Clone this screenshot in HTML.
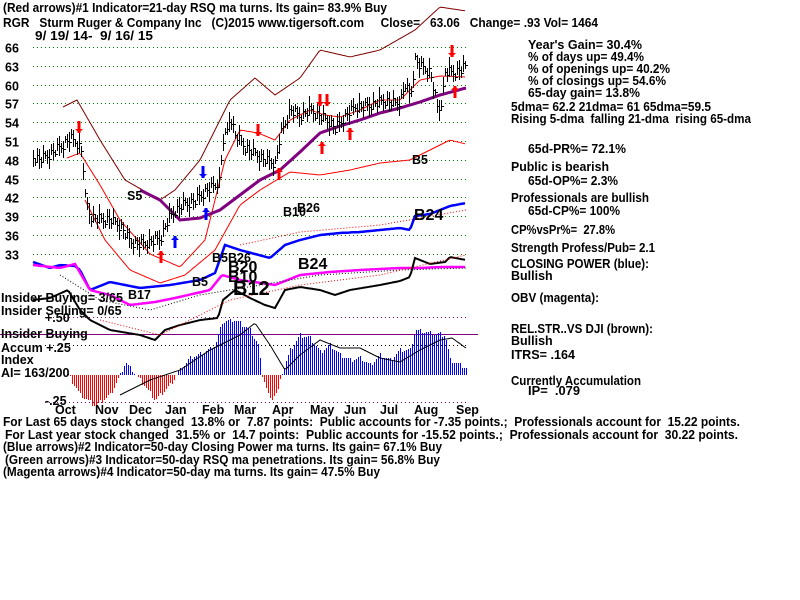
<!DOCTYPE html>
<html><head><meta charset="utf-8"><style>
html,body{margin:0;padding:0;background:#fff;width:800px;height:600px;overflow:hidden}
svg text{font-family:"Liberation Sans",sans-serif;font-weight:bold;font-size:12.5px;fill:#000;white-space:pre}
</style></head><body>
<svg id="s" width="800" height="600" xmlns="http://www.w3.org/2000/svg"></svg>
<script>
var s=document.getElementById('s'),h='';
function py(p){return 47+(66-p)*6.27;}
function pl(pts,c,w,d){h+='<polyline fill="none" stroke="'+c+'" stroke-width="'+w+'"'+(d?' stroke-dasharray="'+d+'"':'')+' points="'+pts.join(' ')+'"/>';}
function interp(a,x){for(var i=0;i<a.length-1;i++){if(x>=a[i][0]&&x<=a[i+1][0]){var t=(x-a[i][0])/(a[i+1][0]-a[i][0]);return a[i][1]+t*(a[i+1][1]-a[i][1]);}}return a[a.length-1][1];}
function curve(a,c,w,d){var p=[];for(var x=a[0][0];x<=a[a.length-1][0];x+=2)p.push(x+','+interp(a,x).toFixed(1));pl(p,c,w,d);}
function txt(x,y,t,c,sz,tl){h+='<text x="'+x+'" y="'+y+'"'+(tl?' textLength="'+tl+'" lengthAdjust="spacingAndGlyphs"':'')+(c?' style="fill:'+c+(sz?';font-size:'+sz+'px':'')+'"':'')+'>'+t+'</text>';}
// grid
var labs=[66,63,60,57,54,51,48,45,42,39,36,33];
labs.forEach(function(p){var y=Math.round(py(p))+0.5;h+='<line x1="33" x2="466" y1="'+y+'" y2="'+y+'" stroke="#008000" stroke-dasharray="1,3"/>';txt(5,y+5,p);});
[[317.5,'#800080'],[345.5,'#000'],[402.5,'#800080']].forEach(function(g){h+='<line x1="45" x2="466" y1="'+g[0]+'" y2="'+g[0]+'" stroke="'+g[1]+'" stroke-dasharray="1,3"/>';});
h+='<line x1="0" x2="478" y1="334.5" y2="334.5" stroke="#800080" stroke-width="1"/>';
// AI bars
var ai=[[68,375],[80,395],[95,406],[110,395],[120,375],[125,362],[130,368],[140,380],[155,400],[170,385],[178,372],[190,358],[205,352],[215,345],[222,322],[235,320],[250,330],[258,345],[262,375],[270,400],[278,390],[282,372],[290,350],[300,335],[310,338],[320,352],[330,345],[340,355],[350,360],[360,358],[370,365],[380,355],[390,360],[400,350],[410,350],[415,330],[430,333],[445,335],[450,360],[466,368]];
h+='<g shape-rendering="crispEdges">';
for(var x=68;x<=466;x+=2){var y=Math.round(interp(ai,x)+((x*7)%5-2));var c=y>375?'#f00':'#00f';if(Math.abs(y-375)<1)continue;h+='<line x1="'+(x+0.5)+'" x2="'+(x+0.5)+'" y1="375" y2="'+y+'" stroke="'+c+'" stroke-width="1"/>';}
h+='</g>';
curve([[120,395],[150,380],[180,370],[210,350],[240,335],[255,323],[270,345],[285,370],[300,355],[320,340],[340,348],[360,348],[380,358],[400,362],[420,350],[440,340],[452,338],[466,348]],'#000',1);
// price bands
curve([[63,107],[77,100],[100,140],[125,180],[160,200],[175,190],[200,160],[230,100],[255,78],[275,95],[300,78],[320,50],[350,57],[380,50],[415,30],[440,7],[466,11]],'#800000',1);
curve([[67,158],[80,153],[100,185],[120,220],[150,254],[180,267],[205,240],[215,200],[225,160],[240,130],[258,133],[275,140],[290,120],[310,110],[325,115],[340,117],[360,110],[380,100],[400,100],[420,80],[440,76],[466,77]],'#f00',1);
curve([[85,200],[105,240],[130,270],[160,283],[185,275],[215,250],[240,205],[260,190],[290,172],[320,175],[350,170],[380,163],[410,160],[430,150],[450,140],[466,144]],'#f00',1);
curve([[140,190],[160,200],[180,220],[200,218],[220,210],[240,195],[260,180],[280,170],[300,152],[320,133],[340,126],[360,120],[380,113],[400,108],[420,102],[440,95],[466,88]],'#800080',3);
// price bars
var pr=[[33,48.5],[40,48],[50,49],[60,50],[70,51.5],[78,50.5],[82,49],[85,42],[90,39],[100,38.5],[110,38.5],[120,37.5],[130,35],[140,34.5],[150,35],[160,35.5],[168,38.5],[175,40],[185,41],[195,41.5],[205,43],[215,44],[220,45],[222,51],[226,52],[230,55],[235,52],[245,50],[255,49],[265,48],[275,47.5],[280,52],[285,54],[290,56],[300,55],[310,56],[320,55],[330,54],[335,53],[345,55],[355,56.5],[365,56.5],[375,57],[385,57.5],[395,57],[400,57.5],[405,60],[410,58],[415,64],[420,63],[430,62],[435,58],[438,55.5],[442,58],[445,62],[455,62],[462,62.5],[466,63]];
h+='<g shape-rendering="crispEdges">';
for(var x=33;x<=466;x+=2){var p=interp(pr,x)+(((x*13)%7)-3)*0.25;var r=0.6+((x*11)%5)*0.25;var y1=Math.round(py(p+r)),y2=Math.round(py(p-r)),yc=Math.round(py(p))+0.5;h+='<line x1="'+(x+0.5)+'" x2="'+(x+0.5)+'" y1="'+y1+'" y2="'+y2+'" stroke="#000"/><line x1="'+x+'" x2="'+(x+3)+'" y1="'+yc+'" y2="'+yc+'" stroke="#000"/>';}
h+='</g>';
// lower indicators
curve([[33,262],[50,268],[60,265],[75,266],[80,270],[90,290],[110,282],[140,288],[170,285],[200,280],[215,273],[225,245],[240,250],[270,258],[285,245],[300,240],[320,235],[340,233],[360,232],[380,230],[400,228],[410,230],[415,216],[430,214],[450,206],[466,203]],'#00f',2.5);
curve([[33,265],[60,268],[75,264],[90,290],[110,295],[130,305],[155,302],[175,298],[210,290],[222,275],[240,280],[275,285],[300,275],[330,272],[360,270],[400,268],[420,268],[440,267],[466,267]],'#f0f',2.5);
curve([[33,300],[50,298],[68,290],[80,310],[90,320],[110,330],[140,335],[155,340],[165,330],[180,325],[200,320],[218,318],[223,300],[235,290],[250,298],[265,305],[275,308],[285,290],[300,287],[320,290],[335,295],[350,290],[380,285],[400,281],[410,277],[415,258],[430,264],[445,262],[450,257],[466,260]],'#000',2);
curve([[60,275],[100,300],[150,310],[200,295],[260,285],[320,275],[400,270],[466,268]],'#000',1,'1,2');
curve([[100,320],[160,335],[230,300],[300,285],[380,275],[466,255]],'#f00',1,'1,2');
curve([[240,245],[300,232],[380,225],[466,210]],'#f00',1,'1,2');
// arrows
function arr(x,y,c,up,hh){hh=hh||12;var t=up?y:y+hh;h+='<line x1="'+x+'" x2="'+x+'" y1="'+y+'" y2="'+(y+hh)+'" stroke="'+c+'" stroke-width="3"/><polygon fill="'+c+'" points="'+(x-4)+','+(up?t+4:t-4)+' '+(x+4)+','+(up?t+4:t-4)+' '+x+','+t+'"/>';}
arr(79,121,'#f00',0);arr(258,124,'#f00',0);arr(320,94,'#f00',0);arr(327,94,'#f00',0);arr(452,45,'#f00',0);
arr(279,168,'#f00',1);arr(322,142,'#f00',1);arr(350,128,'#f00',1);arr(455,86,'#f00',1);arr(161,251,'#f00',1);
arr(175,236,'#00f',1);arr(206,208,'#00f',1);arr(203,166,'#00f',0);
txt(127,200,'S5');txt(412,164,'B5');txt(192,286,'B5');txt(283,216,'B10');txt(212,262,'B5B26');
txt(298,269,'B24','#000',16);txt(228,272,'B20','#000',16);txt(228,282,'B10','#000',16);txt(233,295,'B12','#000',20);txt(128,299,'B17');txt(414,220,'B24','#000',16);txt(297,212,'B26');
['Oct','Nov','Dec','Jan','Feb','Mar','Apr','May','Jun','Jul','Aug','Sep'].forEach(function(m,i){var xs=[55,95,129,165,202,234,272,310,344,380,414,456];txt(xs[i],414,m);});
txt(1,302,'Insider Buying= 3/65');txt(1,315,'Insider Selling= 0/65');txt(45,322,'+.50');
txt(1,338,'Insider Buying');txt(1,352,'Accum +.25');txt(1,364,'Index');txt(1,377,'AI= 163/200');txt(45,405,'-.25');
// header
txt(3,12,'(Red arrows)#1 Indicator=21-day RSQ ma turns. Its gain= 83.9% Buy',0,0,384);
txt(3,27,'RGR   Sturm Ruger &amp; Company Inc   (C)2015 www.tigersoft.com     Close=   63.06   Change= .93 Vol= 1464',0,0,595);
txt(35,40,'9/ 19/ 14-  9/ 16/ 15',0,0,118);
var R=[[528,49,"Year's Gain= 30.4%",114],[528,61,'% of days up= 49.4%',116],[528,73,'% of openings up= 40.2%',142],[528,85,'% of closings up= 54.6%',138],[528,97,'65-day gain= 13.8%',112],[511,111,'5dma= 62.2 21dma= 61 65dma=59.5',200],[511,123,'Rising 5-dma  falling 21-dma  rising 65-dma',240],[528,153,'65d-PR%= 72.1%',98],[511,171,'Public is bearish',98],[528,185,'65d-OP%= 2.3%',90],[511,202,'Professionals are bullish',138],[528,215,'65d-CP%= 100%',92],[511,234,'CP%vsPr%=  27.8%',104],[511,252,'Strength Profess/Pub= 2.1',144],[511,268,'CLOSING POWER (blue):',138],[511,280,'Bullish',],[511,302,'OBV (magenta):',88],[511,333,'REL.STR..VS DJI (brown):',142],[511,345,'Bullish'],[511,359,'ITRS= .164',64],[511,385,'Currently Accumulation',130],[528,395,'IP=  .079',52]];
R.forEach(function(r){txt(r[0],r[1],r[2],0,0,r[3]);});
txt(3,426,'For Last 65 days stock changed  13.8% or  7.87 points:  Public accounts for -7.35 points.;  Professionals account for  15.22 points.',0,0,737);
txt(5,439,'For Last year stock changed  31.5% or  14.7 points:  Public accounts for -15.52 points.;  Professionals account for  30.22 points.',0,0,733);
txt(3,451,'(Blue arrows)#2 Indicator=50-day Closing Power ma turns. Its gain= 67.1% Buy',0,0,439);
txt(5,464,'(Green arrows)#3 Indicator=50-day RSQ ma penetrations. Its gain= 56.8% Buy',0,0,435);
txt(3,476,'(Magenta arrows)#4 Indicator=50-day ma turns. Its gain= 47.5% Buy',0,0,377);
s.innerHTML=h;
</script>
</body></html>
